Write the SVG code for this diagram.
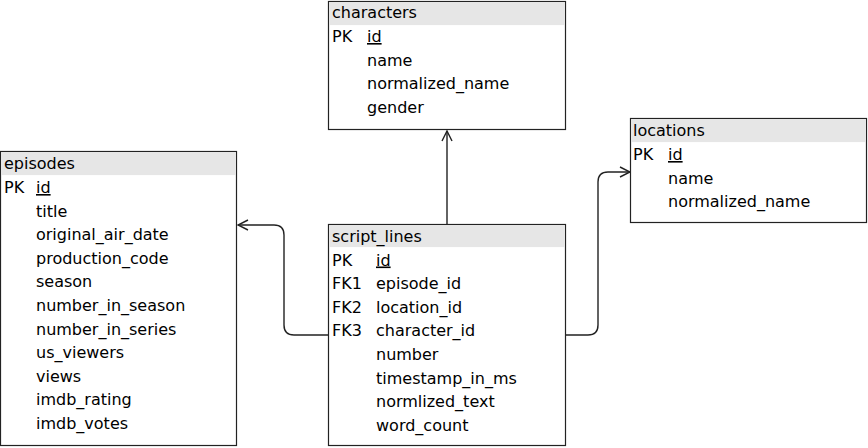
<svg xmlns="http://www.w3.org/2000/svg" width="868" height="448" viewBox="0 0 868 448">
<style>
text{font-family:"DejaVu Sans",Verdana,sans-serif;font-size:16px;fill:#000}
.box{fill:#fff;stroke:#222;stroke-width:1.2}
.hdr{fill:#e6e6e6}
.u{text-decoration:underline}
.conn{fill:none;stroke:#222;stroke-width:1.4}
</style>
<defs>
<marker id="arr" viewBox="0 0 12 12" refX="11" refY="6" markerWidth="12" markerHeight="12" markerUnits="userSpaceOnUse" orient="auto">
<path d="M1,1 L11,6 L1,11" fill="none" stroke="#222" stroke-width="1.4"/>
</marker>
</defs>
<rect width="868" height="448" fill="#fff"/>
<g id="connectors">
<path class="conn" d="M447,224 V131" marker-end="url(#arr)"/>
<path class="conn" d="M329,335 H294 Q284,335 284,325 V235 Q284,225 274,225 H238" marker-end="url(#arr)"/>
<path class="conn" d="M566,335 H588 Q598,335 598,325 V182 Q598,172 608,172 H630" marker-end="url(#arr)"/>
</g>
<g id="episodes">
<rect class="box" x="0.5" y="151.5" width="236" height="294"/>
<rect class="hdr" x="1.1" y="152.1" width="234.8" height="23"/>
<text x="4" y="169">episodes</text>
<text x="4" y="193">PK</text>
<text x="36" y="193" class="u">id</text>
<text x="36" y="216.6">title</text>
<text x="36" y="240.2">original_air_date</text>
<text x="36" y="263.8">production_code</text>
<text x="36" y="287.4">season</text>
<text x="36" y="311">number_in_season</text>
<text x="36" y="334.6">number_in_series</text>
<text x="36" y="358.2">us_viewers</text>
<text x="36" y="381.8">views</text>
<text x="36" y="405.4">imdb_rating</text>
<text x="36" y="429">imdb_votes</text>
</g>
<g id="characters">
<rect class="box" x="328.5" y="1.5" width="237" height="128"/>
<rect class="hdr" x="329.1" y="2.1" width="235.8" height="23"/>
<text x="332" y="18">characters</text>
<text x="332" y="42">PK</text>
<text x="367" y="42" class="u">id</text>
<text x="367" y="65.6">name</text>
<text x="367" y="89.2">normalized_name</text>
<text x="367" y="112.8">gender</text>
</g>
<g id="locations">
<rect class="box" x="630.5" y="118.5" width="236" height="104"/>
<rect class="hdr" x="631.1" y="119.1" width="234.8" height="23"/>
<text x="633" y="136">locations</text>
<text x="633" y="160">PK</text>
<text x="668" y="160" class="u">id</text>
<text x="668" y="183.6">name</text>
<text x="668" y="207.2">normalized_name</text>
</g>
<g id="script_lines">
<rect class="box" x="328.5" y="224.5" width="237" height="221"/>
<rect class="hdr" x="329.1" y="225.1" width="235.8" height="22"/>
<text x="332" y="242">script_lines</text>
<text x="332" y="265.5">PK</text>
<text x="376" y="265.5" class="u">id</text>
<text x="332" y="289.1">FK1</text>
<text x="376" y="289.1">episode_id</text>
<text x="332" y="312.7">FK2</text>
<text x="376" y="312.7">location_id</text>
<text x="332" y="336.3">FK3</text>
<text x="376" y="336.3">character_id</text>
<text x="376" y="359.9">number</text>
<text x="376" y="383.5">timestamp_in_ms</text>
<text x="376" y="407.1">normlized_text</text>
<text x="376" y="430.7">word_count</text>
</g>
</svg>
